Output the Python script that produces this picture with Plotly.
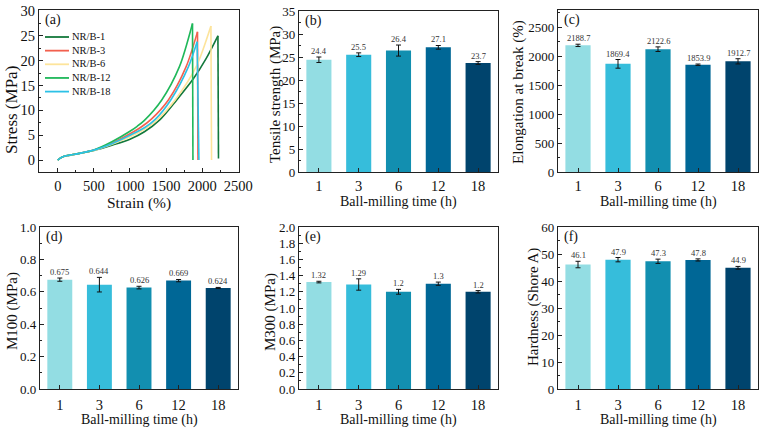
import plotly.graph_objects as go

# ---------------- data: stress-strain curves ----------------
series_names = ["NR/B-1", "NR/B-3", "NR/B-6", "NR/B-12", "NR/B-18"]
series_colors = ["#13793C", "#F2604E", "#FDE49B", "#1FB85A", "#2CC1E6"]

strain_b1 = [0, 30, 80, 150, 300, 500, 750, 1000, 1200, 1420, 1648, 1880, 2050, 2218, 2226]
stress_b1 = [0, 0.35, 0.72, 0.95, 1.35, 1.95, 3.0, 4.2, 5.7, 8.2, 12.1, 16.4, 20.3, 25.0, 0.3]

strain_b3 = [0, 30, 80, 150, 300, 500, 750, 1000, 1150, 1300, 1532, 1778, 1935, 1942]
stress_b3 = [0, 0.35, 0.72, 0.95, 1.35, 2.0, 3.4, 5.3, 6.6, 8.3, 12.1, 18.8, 25.8, 0.0]

strain_b6 = [0, 30, 80, 150, 300, 500, 750, 1000, 1200, 1370, 1625, 1917, 2121, 2130]
stress_b6 = [0, 0.35, 0.72, 0.95, 1.35, 1.95, 3.2, 4.7, 6.2, 8.0, 12.1, 18.8, 27.0, 0.0]

strain_b12 = [0, 30, 80, 150, 300, 500, 750, 1000, 1100, 1200, 1440, 1685, 1866, 1872]
stress_b12 = [0, 0.35, 0.72, 0.95, 1.35, 2.05, 3.7, 5.8, 6.8, 8.0, 12.1, 18.8, 27.5, 0.0]

strain_b18 = [0, 30, 80, 150, 300, 500, 750, 1000, 1200, 1350, 1565, 1810, 1930, 1955]
stress_b18 = [0, 0.35, 0.72, 0.95, 1.35, 2.0, 3.3, 5.0, 6.5, 8.2, 12.1, 18.8, 23.8, 0.0]

curve_strain = [strain_b1, strain_b3, strain_b6, strain_b12, strain_b18]
curve_stress = [stress_b1, stress_b3, stress_b6, stress_b12, stress_b18]

# ---------------- data: bar panels ----------------
categories = ["1", "3", "6", "12", "18"]
bar_colors = ["#93DDE3", "#36BDDB", "#128FB0", "#006796", "#00446D"]

tensile = [24.4, 25.5, 26.4, 27.1, 23.7]
tensile_err = [0.6, 0.4, 1.2, 0.4, 0.3]
tensile_lbl = ["24.4", "25.5", "26.4", "27.1", "23.7"]

elong = [2188.7, 1869.4, 2122.6, 1853.9, 1912.7]
elong_err = [20, 75, 40, 12, 45]
elong_lbl = ["2188.7", "1869.4", "2122.6", "1853.9", "1912.7"]

m100 = [0.675, 0.644, 0.626, 0.669, 0.624]
m100_err = [0.01, 0.045, 0.008, 0.007, 0.003]
m100_lbl = ["0.675", "0.644", "0.626", "0.669", "0.624"]

m300 = [1.32, 1.29, 1.2, 1.3, 1.2]
m300_err = [0.01, 0.07, 0.03, 0.02, 0.015]
m300_lbl = ["1.32", "1.29", "1.2", "1.3", "1.2"]

hardness = [46.1, 47.9, 47.3, 47.8, 44.9]
hardness_err = [1.2, 0.8, 0.8, 0.4, 0.5]
hardness_lbl = ["46.1", "47.9", "47.3", "47.8", "44.9"]

FONT = "Times New Roman, Liberation Serif, DejaVu Serif, serif"
W, H = 768, 433

fig = go.Figure()

frames = {
    "a": (39, 239, 10, 172),
    "b": (299, 498, 11, 172),
    "c": (558, 758, 10, 172),
    "d": (40, 238, 227, 389),
    "e": (299, 498, 227, 389),
    "f": (558, 758, 227, 389),
}

def dom(fr):
    l, r, t, b = fr
    return [l / W, r / W], [1 - b / H, 1 - t / H]

def tfont(size=15):
    return dict(family=FONT, size=size, color="#111")

def axis_common(tick_size):
    return dict(
        showline=True, linecolor="#222", linewidth=1.2, mirror=True, automargin=False,
        ticks="inside", ticklen=4, tickcolor="#222", showgrid=False, zeroline=False,
        tickfont=tfont(tick_size),
    )

annotations = []
shapes = []

def px_note(text, x_px, y_px, size, angle=0):
    annotations.append(dict(x=x_px / W, y=1 - y_px / H, xref="paper", yref="paper", text=text,
                            showarrow=False, xanchor="center", yanchor="middle", textangle=angle,
                            borderpad=0, font=tfont(size)))

# ---- panel (a): rising part smooth, rupture drop straight ----
for name, col, xs, ys in zip(series_names, series_colors, curve_strain, curve_stress):
    fig.add_trace(go.Scatter(x=xs[:-1], y=ys[:-1], mode="lines", name=name,
                             line=dict(color=col, width=1.6, shape="spline", smoothing=0.8),
                             xaxis="x", yaxis="y", showlegend=False))
    fig.add_trace(go.Scatter(x=xs[-2:], y=ys[-2:], mode="lines", name=name,
                             line=dict(color=col, width=1.6),
                             xaxis="x", yaxis="y", showlegend=False))

xd, yd = dom(frames["a"])
fig.update_layout(
    xaxis=dict(domain=xd, anchor="y", range=[-260, 2510], tickvals=[0, 500, 1000, 1500, 2000, 2500],
               minor=dict(ticks="inside", ticklen=2, dtick=250, tickcolor="#222"),
               **axis_common(14.5)),
    yaxis=dict(domain=yd, anchor="x", range=[-2.4, 30.2], tickvals=[0, 5, 10, 15, 20, 25, 30],
               minor=dict(ticks="inside", ticklen=2, dtick=2.5, tickcolor="#222"),
               **axis_common(14.5)),
)
px_note("Strain (%)", 139, 203, 15.5)
px_note("Stress (MPa)", 12, 110, 17, -90)

# key, values, errors, labels, y title, y range, dtick, minor dtick, format, title x px, title y px, x-title y px
bar_panels = [
    ("b", tensile, tensile_err, tensile_lbl, "Tensile strength (MPa)", [0, 35], 5, 2.5, None, 275, 95, 202),
    ("c", elong, elong_err, elong_lbl, "Elongation at break (%)", [0, 2800], 500, 250, None, 518, 92, 202),
    ("d", m100, m100_err, m100_lbl, "M100 (MPa)", [0, 1.0], 0.2, 0.1, ".1f", 12, 311, 420),
    ("e", m300, m300_err, m300_lbl, "M300 (MPa)", [0, 2.0], 0.2, 0.1, ".1f", 270, 312, 420),
    ("f", hardness, hardness_err, hardness_lbl, "Hardness (Shore A)", [0, 60], 10, 5, None, 533, 307, 420),
]

for i, (key, vals, errs, lbls, ytitle, yr, dt, mdt, fmt, tx, ty, xty) in enumerate(bar_panels, start=2):
    xa, ya = f"x{i}", f"y{i}"
    fig.add_trace(go.Bar(
        x=categories, y=vals, marker=dict(color=bar_colors, line=dict(width=0)),
        width=0.63, showlegend=False, xaxis=xa, yaxis=ya,
        error_y=dict(type="data", array=errs, visible=True, color="#111", thickness=1, width=2.5),
    ))
    xd, yd = dom(frames[key])
    ydict = dict(domain=yd, anchor=xa, range=yr, dtick=dt, tick0=0,
                 minor=dict(ticks="inside", ticklen=2, dtick=mdt, tickcolor="#222"),
                 **axis_common(13))
    if fmt:
        ydict["tickformat"] = fmt
    xdict = dict(domain=xd, anchor=ya, type="category", range=[-0.5, 4.5], **axis_common(14.5))
    if key in ("d", "e", "f"):
        xdict["ticklabelstandoff"] = 2
    fig.layout[f"xaxis{i}"] = xdict
    fig.layout[f"yaxis{i}"] = ydict
    l, r, t, b = frames[key]
    px_note("Ball-milling time (h)", (l + r) / 2, xty, 14)
    px_note(ytitle, tx, ty, 15, -90)
    for idx, (v, e, t_) in enumerate(zip(vals, errs, lbls)):
        annotations.append(dict(x=idx, y=v + e, xref=xa, yref=ya, text=t_, showarrow=False,
                                yanchor="bottom", font=dict(family=FONT, size=8.5, color="#333"),
                                borderpad=0, yshift=0))

# panel letters
letters = [("(a)", "x", "y"), ("(b)", "x2", "y2"), ("(c)", "x3", "y3"),
           ("(d)", "x4", "y4"), ("(e)", "x5", "y5"), ("(f)", "x6", "y6")]
for t, xa, ya in letters:
    annotations.append(dict(x=0.018, y=0.94, xref=f"{xa} domain", yref=f"{ya} domain", text=t,
                            showarrow=False, xanchor="left", yanchor="middle",
                            font=tfont(14)))

# hand-drawn legend for panel (a): one multi-line text block + line samples
LEG_SIZE = 10.5
row_gap = 1.3 * LEG_SIZE
first_row = 37
leg_rows_px = [first_row + k * row_gap for k in range(len(series_names))]
for col, ry in zip(series_colors, leg_rows_px):
    yp = 1 - ry / H
    shapes.append(dict(type="line", xref="paper", yref="paper", x0=45 / W, x1=69 / W, y0=yp, y1=yp,
                       line=dict(color=col, width=1.8)))
mid_row = leg_rows_px[len(leg_rows_px) // 2]
annotations.append(dict(x=71 / W, y=1 - mid_row / H, xref="paper", yref="paper",
                        text="<br>".join(series_names), showarrow=False, align="left",
                        xanchor="left", yanchor="middle", borderpad=0, font=tfont(LEG_SIZE)))

fig.update_layout(
    width=W, height=H, margin=dict(l=0, r=0, t=0, b=0, autoexpand=False),
    paper_bgcolor="white", plot_bgcolor="white",
    annotations=annotations, shapes=shapes, showlegend=False,
)

fig.write_html("out.html")
